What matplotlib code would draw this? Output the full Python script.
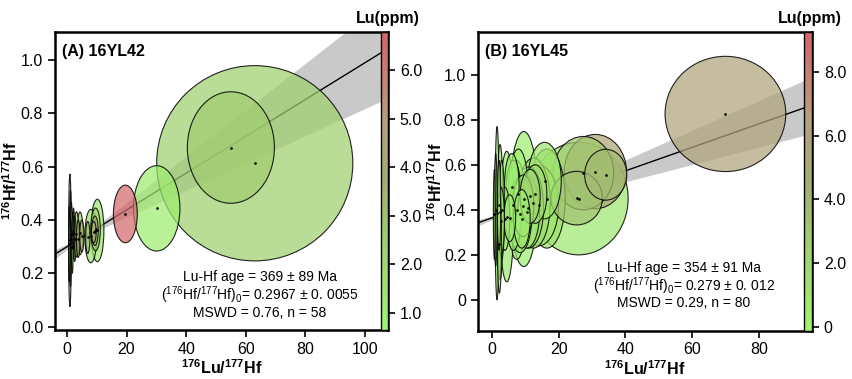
import numpy as np
import matplotlib
matplotlib.use("Agg")
import matplotlib.pyplot as plt
from matplotlib.patches import Ellipse
from matplotlib.colors import LinearSegmentedColormap, Normalize
from matplotlib.colorbar import ColorbarBase

plt.rcParams["font.family"] = ["Liberation Sans", "DejaVu Sans"]
plt.rcParams["mathtext.fontset"] = "custom"
plt.rcParams["mathtext.rm"] = "Liberation Sans"
plt.rcParams["mathtext.it"] = "Liberation Sans:italic"
plt.rcParams["mathtext.bf"] = "Liberation Sans:bold"

# ---- panel A (16YL42): ellipse centres, half-widths (2 sigma), Lu ppm
a_x = [63.0, 55.0, 30.1, 19.6, 10.2, 8.0, 9.6, 9.4, 9.0, 7.0,
       1.0, 1.2, 0.8, 1.5, 2.2, 2.6, 3.2, 3.8, 4.4, 5.0, 1.8, 2.0]
a_y = [0.613, 0.672, 0.444, 0.423, 0.361, 0.340, 0.365, 0.360, 0.355, 0.335,
       0.324, 0.330, 0.310, 0.345, 0.350, 0.330, 0.346, 0.330, 0.350, 0.340, 0.300, 0.360]
a_sx = [32.9, 14.6, 7.8, 4.0, 2.2, 2.0, 1.6, 1.1, 0.8, 0.7,
        0.45, 0.3, 0.25, 0.35, 0.4, 0.5, 0.8, 0.6, 1.0, 0.7, 0.3, 0.25]
a_sy = [0.366, 0.209, 0.160, 0.108, 0.117, 0.100, 0.080, 0.055, 0.040, 0.060,
        0.249, 0.180, 0.140, 0.120, 0.095, 0.085, 0.085, 0.070, 0.080, 0.060, 0.100, 0.070]
a_lu = [2.5, 2.6, 1.1, 6.6, 1.4, 1.6, 2.4, 3.4, 4.0, 3.0,
        2.0, 3.0, 1.5, 2.8, 3.2, 2.5, 2.2, 3.5, 2.0, 3.3, 1.2, 4.2]

# ---- panel B (16YL45)
b_x = [69.9, 26.0, 31.0, 27.4, 25.4, 34.1, 15.8, 16.5, 14.0, 12.5,
       11.0, 10.5, 9.6, 9.4, 9.0, 8.5, 8.0, 7.5, 6.5, 6.0,
       5.4, 4.5, 4.0, 3.0, 2.8, 2.5, 2.3, 2.2, 1.6, 1.2, 0.8, 11.5, 13.0]
b_y = [0.826, 0.450, 0.570, 0.563, 0.452, 0.556, 0.530, 0.450, 0.420, 0.430,
       0.410, 0.390, 0.448, 0.418, 0.360, 0.380, 0.470, 0.400, 0.420, 0.500,
       0.363, 0.370, 0.360, 0.400, 0.350, 0.390, 0.250, 0.420, 0.385, 0.400, 0.380, 0.460, 0.470]
b_sx = [18.05, 14.8, 9.3, 9.1, 7.7, 6.3, 5.0, 5.5, 6.0, 5.0,
        4.5, 3.8, 4.2, 3.2, 2.5, 3.5, 3.0, 2.8, 2.5, 2.2,
        1.75, 2.1, 1.4, 0.8, 1.0, 0.9, 0.6, 0.5, 0.6, 0.4, 0.3, 3.0, 3.5]
b_sy = [0.256, 0.250, 0.165, 0.163, 0.119, 0.113, 0.170, 0.220, 0.180, 0.200,
        0.180, 0.160, 0.300, 0.137, 0.130, 0.170, 0.200, 0.220, 0.200, 0.150,
        0.104, 0.290, 0.140, 0.220, 0.150, 0.300, 0.220, 0.200, 0.385, 0.250, 0.200, 0.120, 0.130]
b_lu = [6.0, 1.0, 5.4, 3.0, 3.4, 3.8, 1.2, 1.4, 0.8, 1.6,
        1.2, 1.0, 0.3, 0.8, 0.6, 0.7, 0.3, 0.8, 0.5, 0.4,
        0.6, 0.8, 1.0, 0.6, 2.0, 1.5, 0.4, 0.4, 0.7, 1.2, 2.8, 2.2, 2.0]

# isochron lines as drawn (intercept, slope) and envelope parameters
a_fit = dict(b0=0.300, b1=0.0069, s0=0.005, sb=0.00181, xc=5.0)
b_fit = dict(b0=0.364, b1=0.00523, s0=0.005, sb=0.00138, xc=5.0)

a_text = ["Lu-Hf age = 369 ± 89 Ma",
          r"($^{176}$Hf/$^{177}$Hf)$_0$= 0.2967 ± 0. 0055",
          "MSWD = 0.76, n = 58"]
b_text = ["Lu-Hf age = 354 ± 91 Ma",
          r"($^{176}$Hf/$^{177}$Hf)$_0$= 0.279 ± 0. 012",
          "MSWD = 0.29, n = 80"]

cmap = LinearSegmentedColormap.from_list(
    "lu", [(0.0, "#9ff570"), (0.3, "#9fcf6e"), (0.5, "#a4ac72"),
           (0.7, "#b5a07c"), (1.0, "#d8646b")])


def panel(rect, cbrect, xs, ys, sxs, sys_, lus, fit, xlim, ylim, yticks,
          yfmt, cbticks, cblabels, clim, title, lines, txt_xy, lu_x, ylab_x):
    ax = fig.add_axes(rect)
    norm = Normalize(*clim)

    xx = np.linspace(xlim[0], xlim[1], 300)
    yy = fit["b0"] + fit["b1"] * xx
    hw = np.sqrt(fit["s0"] ** 2 + (fit["sb"] * (xx - fit["xc"])) ** 2)
    ax.fill_between(xx, yy - hw, yy + hw, color="#c9c9c9", lw=0, zorder=1)
    ax.plot(xx, yy, color="black", lw=1.0, zorder=2)

    order = np.argsort(np.array(sxs) * np.array(sys_))[::-1]
    for i in order:
        fc = cmap(norm(lus[i]))
        e = Ellipse((xs[i], ys[i]), 2 * sxs[i], 2 * sys_[i],
                    facecolor=(fc[0], fc[1], fc[2], 0.72),
                    edgecolor=(0, 0, 0, 0.85), lw=0.8, zorder=3)
        ax.add_patch(e)
    ax.plot(xs, ys, "o", color="black", ms=0.9, zorder=4)

    ax.set_xlim(*xlim)
    ax.set_ylim(*ylim)
    ax.set_yticks(yticks)
    ax.set_yticklabels([yfmt(v) for v in yticks])
    for s in ax.spines.values():
        s.set_linewidth(1.8)
    ax.tick_params(direction="out", length=5, width=1.2, labelsize=11.5)
    ax.set_xlabel(r"$\mathbf{{}^{176}Lu/{}^{177}Hf}$", fontsize=11.5)
    ax.set_ylabel(r"$\mathbf{{}^{176}Hf/{}^{177}Hf}$", fontsize=11.5)
    ax.xaxis.set_label_coords(0.5, -0.096)
    ax.yaxis.set_label_coords(ylab_x, 0.5)
    ax.text(0.022, 0.935, title, transform=ax.transAxes, fontsize=11.5,
            fontweight="bold", va="center", ha="left")
    for k, line in enumerate(lines):
        fig.text(txt_xy[0], txt_xy[1][k], line, fontsize=10, ha="center",
                 va="center")

    cax = fig.add_axes(cbrect)
    cb = ColorbarBase(cax, cmap=cmap, norm=norm, orientation="vertical")
    cb.set_ticks(cbticks)
    cb.set_ticklabels(cblabels)
    cb.outline.set_linewidth(1.0)
    cax.tick_params(direction="out", length=5, width=1.2, labelsize=11.5)
    fig.text(lu_x, 0.952, "Lu(ppm)", fontsize=11.5, fontweight="bold",
             ha="center", va="center")
    return ax


fig = plt.figure(figsize=(8.53, 3.79), dpi=100)
W, H = 853.0, 379.0

panel([55 / W, 1 - 330 / H, 333 / W, 298 / H],
      [381 / W, 1 - 330 / H, 7 / W, 298 / H],
      a_x, a_y, a_sx, a_sy, a_lu, a_fit, (-4.0, 107.7), (-0.012, 1.105),
      [0.0, 0.2, 0.4, 0.6, 0.8, 1.0], lambda v: f"{v:.1f}",
      [1, 2, 3, 4, 5, 6], ["1.0", "2.0", "3.0", "4.0", "5.0", "6.0"],
      (0.65, 6.78), "(A) 16YL42", a_text,
      (260 / W, [1 - 277 / H, 1 - 295 / H, 1 - 313 / H]), 388 / W, -0.106)

panel([478 / W, 1 - 330.5 / H, 334 / W, 298.5 / H],
      [804 / W, 1 - 330.5 / H, 8 / W, 298.5 / H],
      b_x, b_y, b_sx, b_sy, b_lu, b_fit, (-4.1, 95.8), (-0.136, 1.19),
      [0.0, 0.2, 0.4, 0.6, 0.8, 1.0], lambda v: "0" if v == 0 else f"{v:.1f}",
      [0, 2, 4, 6, 8], ["0", "2.0", "4.0", "6.0", "8.0"],
      (-0.12, 9.25), "(B) 16YL45", b_text,
      (684 / W, [1 - 268 / H, 1 - 286 / H, 1 - 303 / H]), 810 / W, -0.1)

fig.savefig("out.png", dpi=100)
